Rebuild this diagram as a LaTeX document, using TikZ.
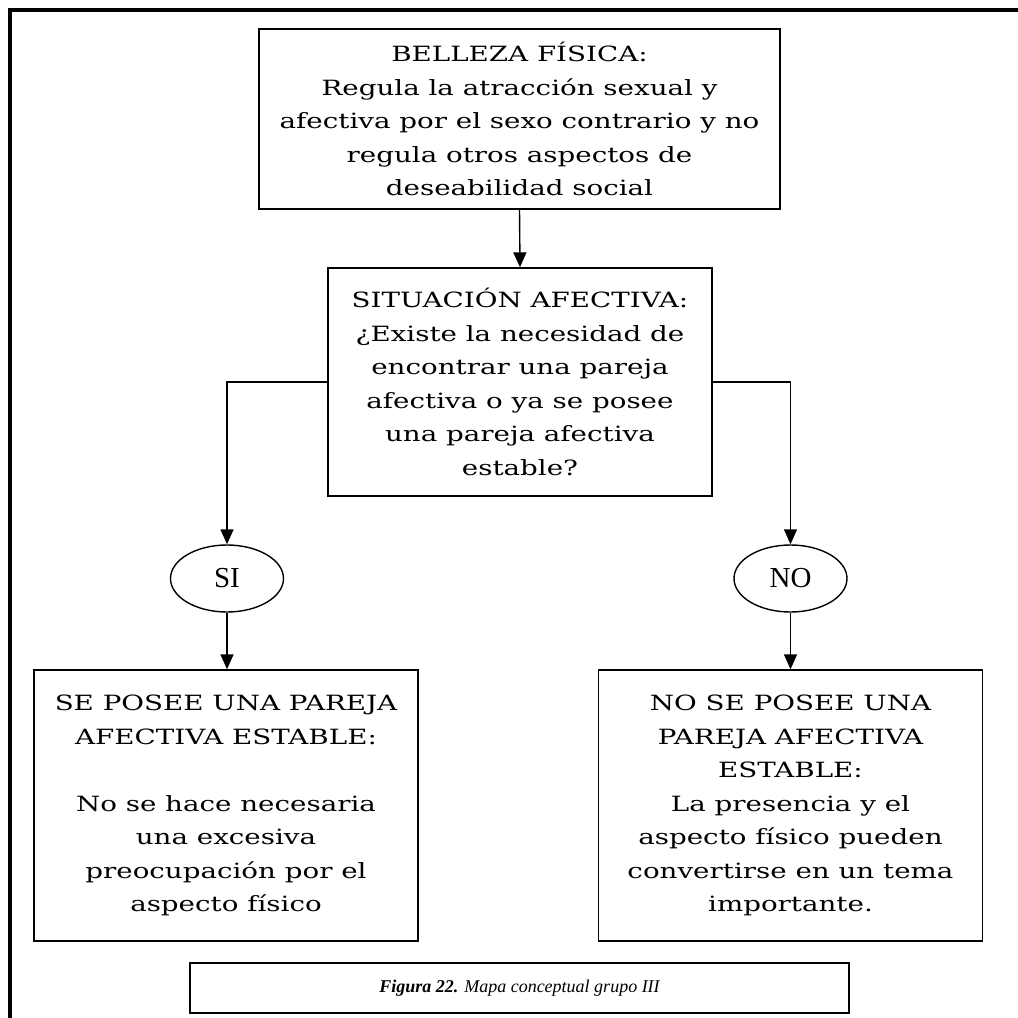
\documentclass[tikz,border=0pt]{standalone}
\usepackage{fontspec}
\setmainfont{DejaVu Serif}[FakeStretch=1.32]
\newfontfamily\capfont{Liberation Serif}
\usetikzlibrary{arrows.meta,shapes.geometric}

\begin{document}
\begin{tikzpicture}[x=1pt,y=-1pt,
    txt/.style={font=\fontsize{21}{33.5}\selectfont, align=center, inner sep=0pt},
    box/.style={txt, draw, line width=1.4pt, rectangle},
    oval/.style={draw, line width=1.4pt, ellipse, inner sep=0pt,
        minimum width=113pt, minimum height=67pt,
        font=\capfont\fontsize{29}{32}\selectfont},
    arr/.style={line width=1.4pt, -{Triangle[width=13pt,length=15pt]}},
    link/.style={line width=1.4pt}]

  \useasboundingbox (0,0) rectangle (1018,1018);

  % outer frame: top and left rules
  \draw[line width=4pt] (10,1018) -- (10,10) -- (1018,10);

  \node[box, minimum width=521pt, minimum height=180pt] (belleza) at (519.5,119)
    {BELLEZA FÍSICA:\\
     Regula la atracción sexual y\\
     afectiva por el sexo contrario y no\\
     regula otros aspectos de\\
     deseabilidad social};

  \node[box, minimum width=384pt, minimum height=228pt] (situacion) at (520,382)
    {SITUACIÓN AFECTIVA:\\
     ¿Existe la necesidad de\\
     encontrar una pareja\\
     afectiva o ya se posee\\
     una pareja afectiva\\
     estable?};

  \node[oval] (si) at (227,578.5) {SI};
  \node[oval] (no) at (790.5,578.5) {NO};

  \node[box, minimum width=384pt, minimum height=271pt] (posee) at (226,805.5)
    {SE POSEE UNA PAREJA\\
     AFECTIVA ESTABLE:\\[33.5pt]
     No se hace necesaria\\
     una excesiva\\
     preocupación por el\\
     aspecto físico};

  \node[box, minimum width=384pt, minimum height=271pt] (noposee) at (790.5,805.5)
    {NO SE POSEE UNA\\
     PAREJA AFECTIVA\\
     ESTABLE:\\
     La presencia y el\\
     aspecto físico pueden\\
     convertirse en un tema\\
     importante.};

  \node[draw, line width=1.4pt, minimum width=659pt, minimum height=50pt,
        font=\capfont\fontsize{18}{20}\selectfont\itshape] (caption) at (519.5,988)
    {\textbf{Figura 22.} Mapa conceptual grupo III};

  % connectors
  \draw[arr] (belleza.south) -- (situacion.north);
  \draw[arr] (situacion.west) -| (si.north);
  \draw[arr] (situacion.east) -| (no.north);
  \draw[arr] (si.south) -- (si.south |- posee.north);
  \draw[arr] (no.south) -- (no.south |- noposee.north);
\end{tikzpicture}
\end{document}
